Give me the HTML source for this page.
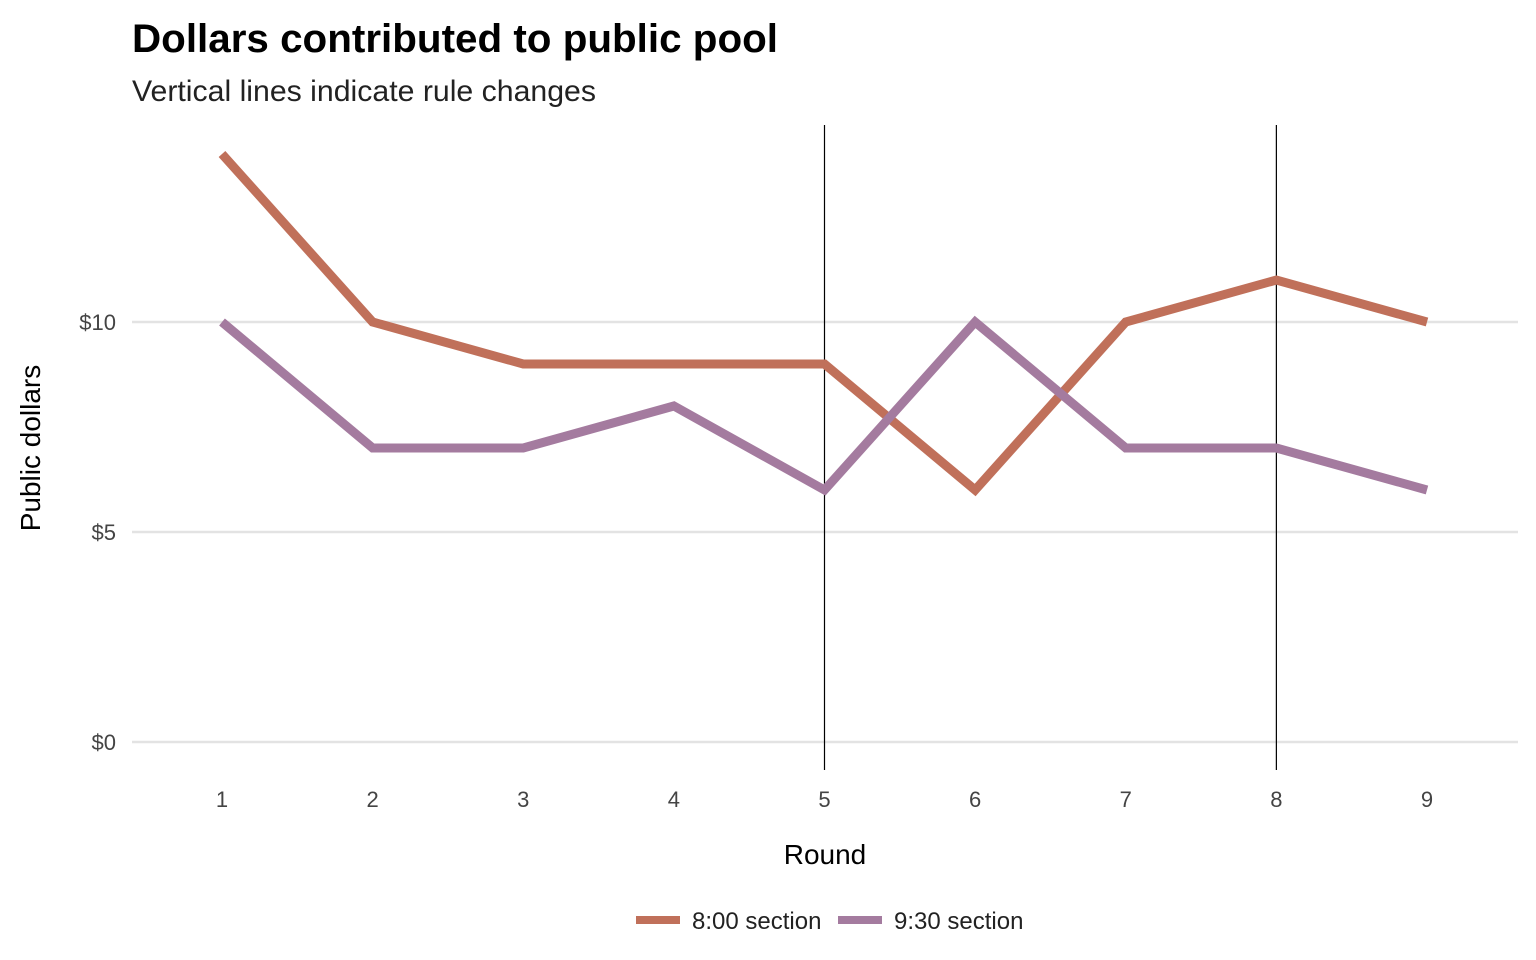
<!DOCTYPE html>
<html><head><meta charset="utf-8"><style>
body{margin:0;background:#fff;}
svg{display:block;font-family:"Liberation Sans Narrow","Liberation Sans",sans-serif;}
</style></head><body>
<svg id="chart" width="1536" height="960">
<text x="132" y="52" font-size="40" font-weight="bold" fill="#000" textLength="646" lengthAdjust="spacingAndGlyphs">Dollars contributed to public pool</text>
<text x="132" y="101" font-size="30" fill="#222" textLength="464" lengthAdjust="spacingAndGlyphs">Vertical lines indicate rule changes</text>
<text transform="translate(40,448) rotate(-90)" text-anchor="middle" font-size="28" fill="#000">Public dollars</text>
<text x="825" y="864" text-anchor="middle" font-size="28" fill="#000">Round</text>
<g id="grid"></g><g id="vlines"></g><g id="series"></g><g id="ticks"></g>
<g>
<rect x="636" y="916" width="44" height="8" fill="#c0705a"/>
<text x="692" y="929" font-size="24" fill="#222">8:00 section</text>
<rect x="838" y="916" width="44" height="8" fill="#a47b9f"/>
<text x="894" y="929" font-size="24" fill="#222">9:30 section</text>
</g>
</svg>
<script>
const rounds=[1,2,3,4,5,6,7,8,9];
const s800=[14,10,9,9,9,6,10,11,10];
const s930=[10,7,7,8,6,10,7,7,6];
const yTicks=[0,5,10];
const yTickLabels=['$0','$5','$10'];
const ruleChanges=[5,8];
const NS='http://www.w3.org/2000/svg';
const xS=r=>222+(r-1)*150.625;
const yS=v=>742-v*42;
function mk(tag,attrs,parent){const e=document.createElementNS(NS,tag);for(const k in attrs)e.setAttribute(k,attrs[k]);document.getElementById(parent).appendChild(e);return e;}
yTicks.forEach((t,i)=>{
 const l=mk('line',{x1:132,x2:1518,y1:yS(t),y2:yS(t),stroke:'#e3e3e3','stroke-width':2.5},'grid');
 
 
 const tx=mk('text',{x:116,y:yS(t)+8,'text-anchor':'end','font-size':22,fill:'#444'},'ticks');
 tx.textContent=yTickLabels[i];
 
 
});
rounds.forEach(r=>{
 const tx=mk('text',{x:xS(r),y:807,'text-anchor':'middle','font-size':22,fill:'#444'},'ticks');
 tx.textContent=r;
 
 
});
ruleChanges.forEach(r=>{
 const l=mk('line',{x1:xS(r),x2:xS(r),y1:125,y2:770,stroke:'#000','stroke-width':1.2},'vlines');
 
 
});
[[s800,'#c0705a','line-800-section'],[s930,'#a47b9f','line-930-section']].forEach(([d,c,n])=>{
 const p=mk('polyline',{points:d.map((v,i)=>xS(rounds[i])+','+yS(v)).join(' '),fill:'none',stroke:c,'stroke-width':9},'series');
 
 
});
</script>
</body></html>
